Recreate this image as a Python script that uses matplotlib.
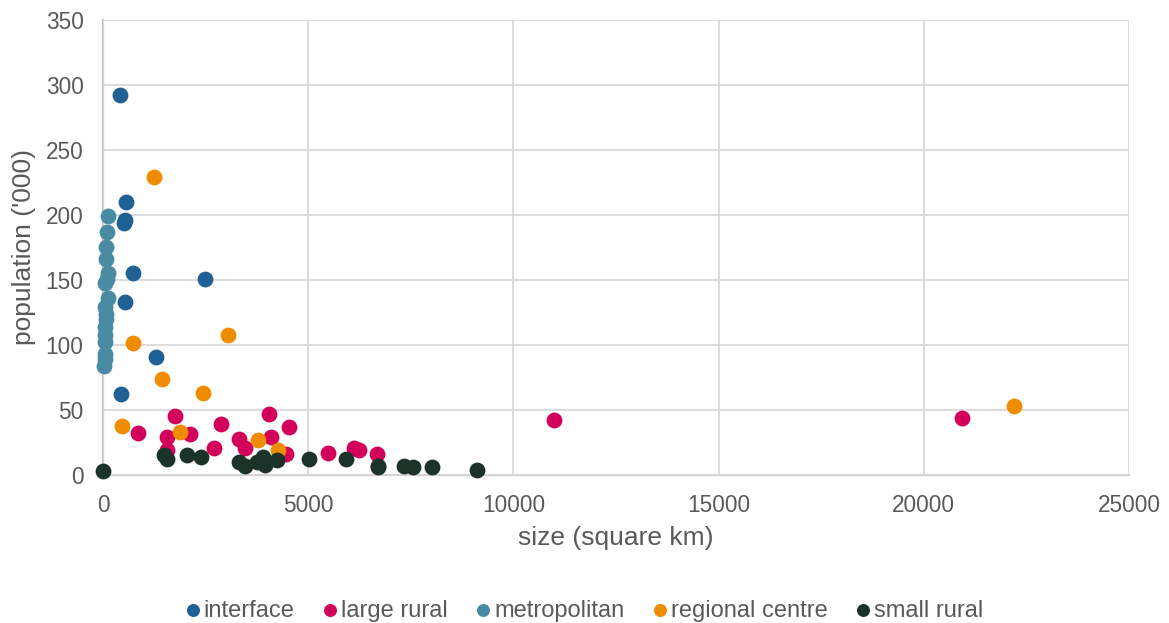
"""Population vs area by region type, scatter."""
import matplotlib
matplotlib.use("Agg")
import matplotlib.pyplot as plt

plt.rcParams.update({
    "font.family": ["Liberation Sans", "DejaVu Sans"],
    "font.size": 16,
})

GREY_TXT = "#595959"

interface_x = [414, 560, 536, 512, 731, 2485, 536, 1291, 438]
interface_y = [292, 210, 196, 194, 155, 151, 133, 91, 62]

large_rural_x = [853, 1755, 1560, 2120, 1560, 2876, 2705, 3314, 3460, 4045,
                 4094, 4533, 4460, 5483, 6117, 6240, 6677, 10990, 20934]
large_rural_y = [32, 45, 29, 31.5, 19, 39, 21, 27.7, 21, 47,
                 29, 37, 16, 17, 21, 19, 16, 42, 44]

metro_x = [120, 100, 80, 70, 120, 100, 60, 120, 50, 70,
           80, 50, 50, 40, 50, 40, 30]
metro_y = [199, 187, 175, 166, 155, 151, 148, 136, 129, 124,
           120, 114, 108, 102, 93, 89, 84]

regional_x = [1243, 731, 3046, 1438, 2437, 463, 1877, 3777, 4264, 22200]
regional_y = [229, 101.5, 108, 74, 63, 38, 33, 27, 19, 53]

small_rural_x = [0, 1487, 1560, 2047, 2388, 3314, 3460, 3753, 3900, 3948,
                 4240, 5020, 5922, 6700, 6700, 7335, 7554, 8018, 9114]
small_rural_y = [3, 15, 12, 15, 13.6, 10, 7, 10, 14, 8,
                 11.5, 12, 12, 7, 6, 7, 6, 6, 4]

series = [
    ("interface", interface_x, interface_y, "#1f6095"),
    ("large rural", large_rural_x, large_rural_y, "#d3005b"),
    ("metropolitan", metro_x, metro_y, "#4a8ba4"),
    ("regional centre", regional_x, regional_y, "#f08c00"),
    ("small rural", small_rural_x, small_rural_y, "#1b3329"),
]

fig = plt.figure(figsize=(11.69, 6.23), dpi=100)
ax = fig.add_axes([0.0881, 0.2376, 0.8777, 0.7303])

for name, xs, ys, color in series:
    ax.scatter(xs, ys, s=130, color=color, label=name, zorder=3,
               linewidths=0, clip_on=False)

ax.set_xlim(0, 25000)
ax.set_ylim(0, 350)
ax.set_xticks(range(0, 25001, 5000))
ax.set_yticks(range(0, 351, 50))
ax.grid(True, color="#d9d9d9", lw=1.3, zorder=0)
for s in ("top", "right"):
    ax.spines[s].set_visible(False)
ax.spines["left"].set_color("#bfbfbf")
ax.spines["bottom"].set_color("#d0d0d0")
for s in ("left", "bottom"):
    ax.spines[s].set_linewidth(1.6)
    ax.spines[s].set_zorder(1)
ax.tick_params(length=0, colors=GREY_TXT, labelsize=16.3, pad=14)

ax.set_xlabel("size (square km)", color=GREY_TXT, fontsize=19, labelpad=6)
ax.set_ylabel("population ('000)", color=GREY_TXT, fontsize=19, labelpad=7)

# legend: tight marker/text gap like the Excel original
fig.legend(loc="center", bbox_to_anchor=(0.5, 0.02), ncol=5, frameon=False,
           handlelength=0.6, handletextpad=0.17, columnspacing=1.2,
           markerscale=0.82, fontsize=17, labelcolor=GREY_TXT)

fig.savefig("out.png", dpi=100)
plt.close(fig)
